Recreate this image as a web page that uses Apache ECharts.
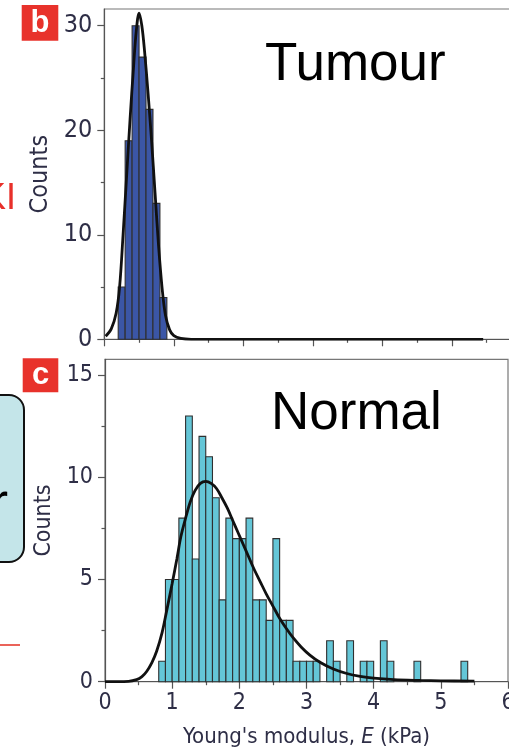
<!DOCTYPE html>
<html>
<head>
<meta charset="utf-8">
<script src="https://cdn.jsdelivr.net/npm/echarts@6/dist/echarts.min.js"></script>
<style>
html,body{margin:0;padding:0;background:#fff;}
#c{width:509px;height:752px;}
</style>
</head>
<body>
<div id="c"></div>
<script>
// ---- Data ----
var BIN_WIDTH = 0.1;
// Tumour histogram: [bin start (kPa), counts]
var tumourBinStarts = [0.2, 0.3, 0.4, 0.5, 0.6, 0.7, 0.8];
var tumourCounts    = [5, 19, 30, 27, 22, 13, 4];
// Normal histogram: bin starts 0.8 .. 5.3
var normalBinStarts = [0.8,0.9,1.0,1.1,1.2,1.3,1.4,1.5,1.6,1.7,1.8,1.9,2.0,2.1,2.2,2.3,2.4,2.5,2.6,2.7,2.8,2.9,3.0,3.1,3.2,3.3,3.4,3.5,3.6,3.7,3.8,3.9,4.0,4.1,4.2,4.3,4.4,4.5,4.6,4.7,4.8,4.9,5.0,5.1,5.2,5.3];
var normalCounts    = [1,5,5,8,13,6,12,11,9,4,8,7,7,8,4,4,3,7,3,3,1,1,1,1,0,2,1,0,2,0,1,1,0,2,1,0,0,0,1,0,0,0,0,0,0,1];
// Fitted curves
var tumourFitX = [0.02,0.1,0.17,0.22,0.27,0.32,0.37,0.42,0.46,0.5,0.54,0.58,0.63,0.68,0.73,0.78,0.83,0.88,0.94,1.0,1.1,1.25,5.45];
var tumourFitY = [0.3,1.0,2.5,5,10,15.5,21,26,29.5,31.2,30,27.5,23.5,19,14,9,5,2.3,0.9,0.35,0.08,0,0];
var normalFitX = [0,0.35,0.47,0.55,0.62,0.7,0.77,0.85,0.92,1.0,1.07,1.13,1.2,1.27,1.34,1.42,1.5,1.58,1.66,1.74,1.82,1.9,1.98,2.06,2.14,2.22,2.31,2.4,2.5,2.6,2.7,2.8,2.92,3.05,3.2,3.4,3.6,3.8,4.0,4.3,4.7,5.0,5.5];
var normalFitY = [0,0.02,0.1,0.25,0.5,0.95,1.5,2.4,3.5,4.8,6.0,7.1,8.0,8.8,9.35,9.7,9.8,9.7,9.45,9.0,8.5,7.9,7.3,6.7,6.1,5.5,4.9,4.3,3.7,3.1,2.6,2.15,1.7,1.3,0.95,0.62,0.4,0.26,0.17,0.1,0.06,0.04,0.03];
// Tick values
var tumourYMajor = [0,10,20,30];
var tumourYMinor = [5,15,25];
var normalYMajor = [0,5,10,15];
var normalYMinor = [2.5,7.5,12.5];

// ---- Styles ----
var NARROW = "'Liberation Sans Narrow','DejaVu Sans Condensed',sans-serif";
var TXT = '#2e2e46';
var AXC = '#555';

function zip(a,b){ return a.map(function(v,i){ return [v,b[i]]; }); }

function histItem(color){
  return function(params, api){
    var x0 = api.value(0), y = api.value(1);
    if (!y) return null;
    var p0 = api.coord([x0, y]);
    var p1 = api.coord([x0 + BIN_WIDTH, 0]);
    return {type:'rect', shape:{x:p0[0], y:p0[1], width:p1[0]-p0[0], height:p1[1]-p0[1]},
      style:{fill:color, stroke:'#2f2f2f', lineWidth:1.1}};
  };
}

function xAxisDef(grid, showLabels){
  return {
    gridIndex:grid, type:'value', min:0, max:6, interval:1,
    axisLine:{show:true, onZero:false, lineStyle:{color:AXC, width:1.2}},
    axisTick:{show:true, inside:false, length:7, lineStyle:{color:AXC, width:1.2}},
    minorTick:{show:true, splitNumber:2, length:3.5, lineStyle:{color:AXC, width:1.2}},
    splitLine:{show:false}, minorSplitLine:{show:false},
    axisLabel:{show:showLabels, margin:10, color:TXT, fontFamily:NARROW, fontSize:23}
  };
}
function yMajor(grid, max, ticks, fs, gap){
  return {
    gridIndex:grid, type:'value', min:0, max:max,
    name:'Counts', nameLocation:'middle', nameGap:gap,
    nameTextStyle:{color:TXT, fontFamily:NARROW, fontSize:fs},
    axisLine:{show:true, lineStyle:{color:AXC, width:1.2}},
    axisTick:{show:true, length:7, customValues:ticks, lineStyle:{color:AXC, width:1.2}},
    axisLabel:{show:true, margin:12, customValues:ticks, color:TXT, fontFamily:NARROW, fontSize:fs},
    splitLine:{show:false}
  };
}
function yMinor(grid, max, ticks){
  return {
    gridIndex:grid, type:'value', min:0, max:max, position:'left',
    axisLine:{show:false},
    axisTick:{show:true, length:3.5, customValues:ticks, lineStyle:{color:AXC, width:1.2}},
    axisLabel:{show:false}, splitLine:{show:false}
  };
}

var chart = echarts.init(document.getElementById('c'), null, {renderer:'canvas'});
var option = {
  animation:false,
  backgroundColor:'#fff',
  grid:[
    {left:104.3, top:9, width:417.1, height:330.3, outerBoundsMode:'none', containLabel:false,
      show:true, borderColor:'#777', borderWidth:1.2, backgroundColor:'transparent'},
    {left:105, top:359.3, width:403, height:322.4, outerBoundsMode:'none', containLabel:false,
      show:true, borderColor:'#777', borderWidth:1.2, backgroundColor:'transparent'}
  ],
  xAxis:[
    xAxisDef(0, false),
    Object.assign(xAxisDef(1, true), {
      name:"{a|Young's modulus, }{i|E}{a| (kPa)}", nameLocation:'middle', nameGap:45,
      nameTextStyle:{rich:{a:{color:TXT, fontFamily:NARROW, fontSize:22}, i:{color:TXT, fontFamily:NARROW, fontSize:22, fontStyle:'italic'}}}
    })
  ],
  yAxis:[
    yMajor(0, 31.6, tumourYMajor, 25, 39),
    yMinor(0, 31.6, tumourYMinor),
    yMajor(1, 15.77, normalYMajor, 23, 41),
    yMinor(1, 15.77, normalYMinor)
  ],
  series:[
    {type:'custom', xAxisIndex:0, yAxisIndex:0, renderItem:histItem('#3b56a6'), data:zip(tumourBinStarts, tumourCounts), z:2},
    {type:'line', xAxisIndex:0, yAxisIndex:0, data:zip(tumourFitX, tumourFitY), smooth:0.35, symbol:'none',
      lineStyle:{color:'#111', width:2.8}, z:5},
    {type:'custom', xAxisIndex:1, yAxisIndex:2, renderItem:histItem('#64c6d7'), data:zip(normalBinStarts, normalCounts), z:2},
    {type:'line', xAxisIndex:1, yAxisIndex:2, data:zip(normalFitX, normalFitY), smooth:0.35, symbol:'none',
      lineStyle:{color:'#111', width:2.8}, z:5}
  ],
  graphic:[
    {type:'rect', shape:{x:21.7, y:5, width:36.6, height:35.7}, style:{fill:'#e8322b'}},
    {type:'text', x:40, y:23, style:{text:'b', fill:'#fff', font:"bold 31px 'Liberation Sans',Arial,sans-serif", align:'center', verticalAlign:'middle'}},
    {type:'rect', shape:{x:22.7, y:358.3, width:35.6, height:34}, style:{fill:'#e8322b'}},
    {type:'text', x:40.5, y:375, style:{text:'c', fill:'#fff', font:"bold 31px 'Liberation Sans',Arial,sans-serif", align:'center', verticalAlign:'middle'}},
    {type:'text', x:265, y:65, style:{text:'Tumour', fill:'#000', font:"53px 'Liberation Sans',Arial,sans-serif", align:'left', verticalAlign:'middle'}},
    {type:'text', x:271, y:414, style:{text:'Normal', fill:'#000', font:"53px 'Liberation Sans',Arial,sans-serif", align:'left', verticalAlign:'middle'}},
    {type:'text', x:16, y:199, style:{text:'KI', fill:'#e8302a', font:"36px 'Liberation Sans',Arial,sans-serif", align:'right', verticalAlign:'middle'}},
    {type:'rect', shape:{x:-24, y:395, width:48, height:167, r:15}, style:{fill:'#c4e5e9', stroke:'#111', lineWidth:2}},
    {type:'text', x:8, y:505, style:{text:'r', fill:'#000', font:"52px 'Liberation Sans',Arial,sans-serif", align:'right', verticalAlign:'middle'}},
    {type:'line', shape:{x1:0, y1:645, x2:20, y2:645}, style:{stroke:'#e53b2f', lineWidth:1.6}}
  ]
};
chart.setOption(option);
</script>
</body>
</html>
